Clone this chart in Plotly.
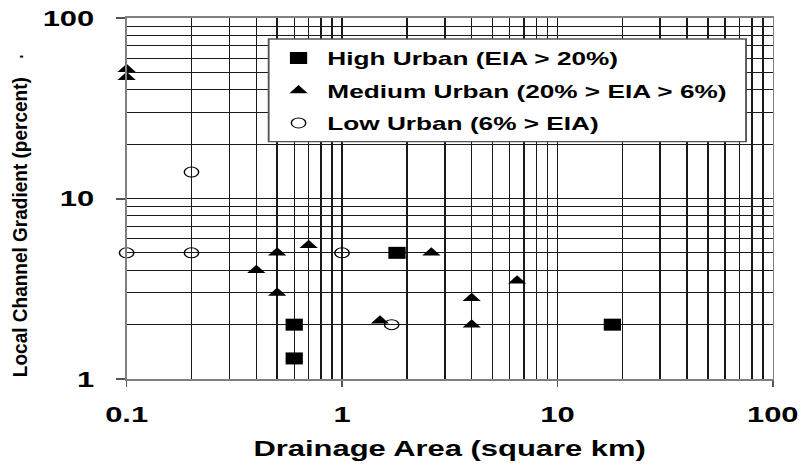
import plotly.graph_objects as go

# ---- data ----
high_x = [1.8, 0.6, 0.6, 18]
high_y = [5, 2, 1.3, 2]

med_x = [0.1, 0.1, 0.4, 0.5, 0.5, 0.7, 1.5, 2.6, 4, 4, 6.5]
med_y = [52, 47, 4, 5, 3, 5.5, 2.1, 5, 2.8, 2, 3.5]

low_x = [0.1, 0.2, 0.2, 1.0, 1.7]
low_y = [5, 14, 5, 5, 2]

x_tickvals = [0.1, 1, 10, 100]
x_ticktext = ["0.1", "1", "10", "100"]
y_tickvals = [1, 10, 100]
y_ticktext = ["1", "10", "100"]

names = ["High Urban (EIA > 20%)", "Medium Urban (20% > EIA > 6%)", "Low Urban (6% > EIA)"]

FONT = "Liberation Sans, Arial, sans-serif"
W0 = 558          # drawn width before the horizontal stretch
STRETCH = 803 / W0

fig = go.Figure()
fig.add_trace(go.Scatter(x=high_x, y=high_y, mode="markers", name=names[0], legendgroup="a",
                         marker=dict(symbol="square", size=12, color="black"), cliponaxis=False))
fig.add_trace(go.Scatter(x=med_x, y=med_y, mode="markers", name=names[1], legendgroup="b",
                         marker=dict(symbol="triangle-up", size=11, color="black"), cliponaxis=False))
fig.add_trace(go.Scatter(x=low_x, y=low_y, mode="markers", name=names[2], legendgroup="c",
                         marker=dict(symbol="circle-open", size=10, color="black",
                                     line=dict(width=1, color="black")), cliponaxis=False))

grid = "#1a1a1a"
tickfont = dict(family=FONT, size=21.5, color="black", weight="bold")

fig.update_xaxes(type="log", range=[-1, 2], tickvals=x_tickvals, ticktext=x_ticktext, automargin=False,
                 showline=True, mirror=True, linecolor="#808080", linewidth=2,
                 ticks="outside", ticklen=6, tickcolor="#555", tickwidth=1, ticklabelstandoff=9,
                 showgrid=True, gridcolor=grid, gridwidth=0.7, zeroline=False, tickfont=tickfont,
                 minor=dict(dtick="D1", showgrid=True, gridcolor=grid, gridwidth=0.7, ticks=""))
fig.update_yaxes(type="log", range=[0, 2], tickvals=y_tickvals, ticktext=y_ticktext, automargin=False,
                 showline=True, mirror=True, linecolor="#808080", linewidth=1.4,
                 ticks="outside", ticklen=6, tickcolor="#555", tickwidth=1.5, ticklabelstandoff=11,
                 showgrid=True, gridcolor=grid, gridwidth=1, zeroline=False, tickfont=tickfont,
                 minor=dict(dtick="D1", showgrid=True, gridcolor=grid, gridwidth=1, ticks=""))

fig.update_layout(
    width=W0, height=466,
    margin=dict(l=88, r=21, t=18, b=87, autoexpand=False),
    paper_bgcolor="white", plot_bgcolor="white",
    showlegend=True,
    legend=dict(x=0.2215, xanchor="left", y=(379 - 39.7) / 361, yanchor="top",
                bgcolor="rgba(0,0,0,0)", borderwidth=0, tracegroupgap=5.8,
                font=dict(family=FONT, size=18.2, color="black", weight="bold")),
    shapes=[dict(type="rect", xref="paper", yref="paper", x0=0.2198, x1=0.9586, y0=0.6573, y1=0.9418,
                 fillcolor="white", line=dict(color="#555", width=1.3), layer="above")],
    annotations=[
        dict(text="Drainage Area (square km)", xref="paper", yref="paper", x=0.5, y=-0.155,
             xanchor="center", yanchor="top", showarrow=False,
             font=dict(family=FONT, size=21.5, color="black", weight="bold")),
        dict(text="Local Channel Gradient (percent)", xref="paper", yref="paper", x=-0.1657, y=0.421,
             xanchor="center", yanchor="middle", textangle=-90, showarrow=False,
             font=dict(family=FONT, size=14, color="black", weight="bold")),
        dict(text=".", xref="paper", yref="paper", x=-0.172, y=0.893,
             xanchor="center", yanchor="middle", textangle=-90, showarrow=False,
             font=dict(family=FONT, size=14, color="black", weight="bold")),
    ],
)

post = """
document.body.style.margin='0';
document.body.style.overflow='hidden';
var gd=document.getElementById('{plot_id}');
gd.style.transformOrigin='0 0';
gd.style.transform='scaleX(""" + "%.5f" % STRETCH + """)';
function fixTitle(){
  var ts=gd.querySelectorAll('.annotation-text');
  for(var i=0;i<ts.length;i++){
    if(ts[i].textContent.indexOf('Local')===0){
      ts[i].setAttribute('textLength','300');
      ts[i].setAttribute('lengthAdjust','spacingAndGlyphs');
    }
  }
}
fixTitle();
if(gd.on){gd.on('plotly_afterplot',fixTitle);}
"""

fig.write_html("out.html", post_script=post, config={"displayModeBar": False})
